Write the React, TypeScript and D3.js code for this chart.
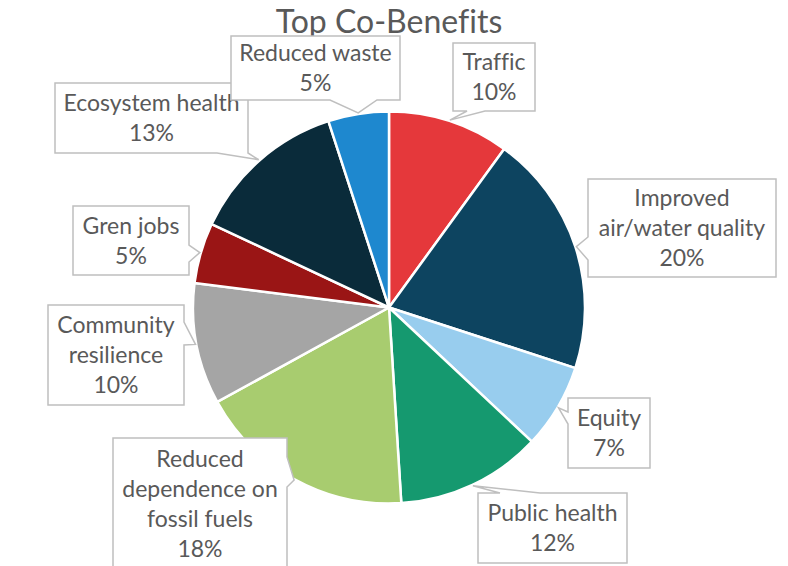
import React from "react";
import * as d3 from "d3";

const title = "Top Co-Benefits";
const categories = [
  "Traffic",
  "Improved air/water quality",
  "Equity",
  "Public health",
  "Reduced dependence on fossil fuels",
  "Community resilience",
  "Gren jobs",
  "Ecosystem health",
  "Reduced waste",
];
const values = [10, 20, 7, 12, 18, 10, 5, 13, 5];
const labelLines = [
  ["Traffic"],
  ["Improved", "air/water quality"],
  ["Equity"],
  ["Public health"],
  ["Reduced", "dependence on", "fossil fuels"],
  ["Community", "resilience"],
  ["Gren jobs"],
  ["Ecosystem health"],
  ["Reduced waste"],
];
const colors = [
  "#E5383B",
  "#0D4460",
  "#98CDEE",
  "#15996F",
  "#A8CC6F",
  "#A5A5A5",
  "#9A1515",
  "#0A2B3A",
  "#1E88CF",
];

// callout layout: box [x, y, w, h], side of pointer, pointer base range
type Callout = { box: [number, number, number, number]; side: string; base: [number, number] };
const callouts: Callout[] = [
  { box: [453, 43, 82, 68], side: "bottom", base: [467, 485] },
  { box: [588, 179, 188, 98], side: "left", base: [237, 260] },
  { box: [568, 398, 82, 70], side: "left", base: [412, 424] },
  { box: [478, 493, 149, 70], side: "top", base: [500, 540] },
  { box: [113, 438, 174, 132], side: "right", base: [457, 487] },
  { box: [48, 305, 136, 100], side: "right", base: [322, 345] },
  { box: [73, 206, 116, 69], side: "right", base: [245, 262] },
  { box: [55, 83, 193, 70], side: "bottom", base: [217, 248] },
  { box: [231, 36, 169, 64], side: "bottom", base: [330, 377] },
];

const W = 788;
const H = 566;
const cx = 389;
const cy = 307.5;
const R = 196;

function calloutPath(c: Callout, tip: [number, number]) {
  const [x, y, w, h] = c.box;
  const [a1, a2] = c.base;
  const p = d3.path();
  p.moveTo(x, y);
  if (c.side === "top") {
    p.lineTo(a1, y);
    p.lineTo(tip[0], tip[1]);
    p.lineTo(a2, y);
  }
  p.lineTo(x + w, y);
  if (c.side === "right") {
    p.lineTo(x + w, a1);
    p.lineTo(tip[0], tip[1]);
    p.lineTo(x + w, a2);
  }
  p.lineTo(x + w, y + h);
  if (c.side === "bottom") {
    p.lineTo(a2, y + h);
    p.lineTo(tip[0], tip[1]);
    p.lineTo(a1, y + h);
  }
  p.lineTo(x, y + h);
  if (c.side === "left") {
    p.lineTo(x, a2);
    p.lineTo(tip[0], tip[1]);
    p.lineTo(x, a1);
  }
  p.closePath();
  return p.toString();
}

export default function App() {
  const pie = d3.pie<number>().sort(null).value((d) => d);
  const arcs = pie(values);
  const arc = d3.arc<d3.PieArcDatum<number>>().innerRadius(0).outerRadius(R);
  const font = "Lato, 'Open Sans', sans-serif";
  const lh = 30;

  return (
    <svg
      width={W}
      height={H}
      style={{ position: "absolute", left: 0, top: 0, background: "#fff", fontVariantLigatures: "none" }}
    >
      <text
        x={cx}
        y={33}
        textAnchor="middle"
        fontFamily={font}
        fontSize={32}
        fill="#595959"
      >
        {title}
      </text>
      <g transform={`translate(${cx},${cy})`}>
        {arcs.map((a, i) => (
          <path
            key={categories[i]}
            d={arc(a) || ""}
            fill={colors[i]}
            stroke="#fff"
            strokeWidth={2.5}
            strokeLinejoin="round"
          />
        ))}
      </g>
      {arcs.map((a, i) => {
        const mid = (a.startAngle + a.endAngle) / 2;
        const tip: [number, number] = [
          cx + (R + 1) * Math.sin(mid),
          cy - (R + 1) * Math.cos(mid),
        ];
        const c = callouts[i];
        const [x, y, w, h] = c.box;
        const lines = [...labelLines[i], `${values[i]}%`];
        const startY = y + h / 2 - ((lines.length - 1) * lh) / 2;
        return (
          <g key={"lab" + i}>
            <path
              d={calloutPath(c, tip)}
              fill="#fff"
              stroke="#BFBFBF"
              strokeWidth={1.5}
            />
            <text
              textAnchor="middle"
              fontFamily={font}
              fontSize={23}
              fill="#595959"
            >
              {lines.map((t, j) => (
                <tspan key={j} x={x + w / 2} y={startY + j * lh} dy="0.35em">
                  {t}
                </tspan>
              ))}
            </text>
          </g>
        );
      })}
    </svg>
  );
}
